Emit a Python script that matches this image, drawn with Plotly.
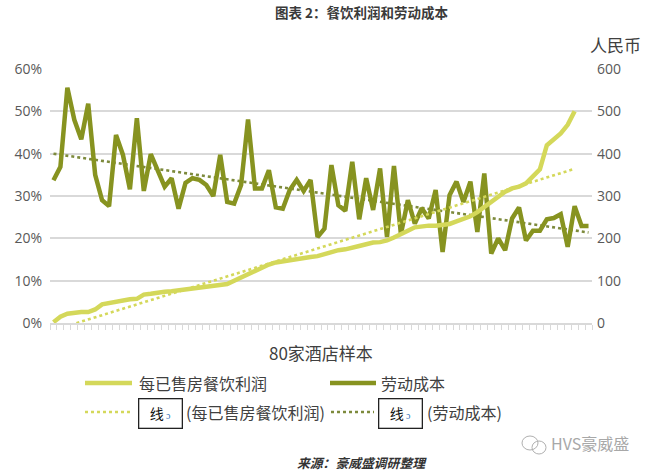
import numpy as np
import plotly.graph_objects as go

# ---------------- data ----------------
labor_cost_pct = [33.7, 36.9, 55.6, 48.0, 43.4, 51.8, 35.0, 29.0, 27.6, 44.4,
                  39.7, 31.6, 48.4, 31.2, 39.9, 36.0, 32.2, 34.2, 27.0, 33.1,
                  34.2, 33.8, 32.6, 30.0, 39.7, 28.6, 28.2, 32.6, 48.1, 31.8,
                  31.8, 36.1, 27.3, 27.0, 31.4, 33.8, 31.2, 33.8, 20.3, 22.3,
                  37.3, 27.8, 26.5, 38.1, 24.5, 34.2, 26.7, 36.5, 20.3, 37.1,
                  21.0, 29.0, 23.5, 27.1, 24.7, 31.4, 16.8, 30.2, 33.4, 28.6,
                  33.4, 21.5, 35.3, 16.4, 20.0, 17.2, 24.7, 27.3, 19.5, 21.8,
                  21.8, 24.5, 24.8, 25.7, 18.0, 27.6, 22.9, 22.9]
fb_profit_rmb = [2, 15, 22, 25, 26, 26, 32, 44, 47, 52,
                 55, 56, 57, 67, 69, 72, 74, 75, 77, 80,
                 82, 84, 85, 87, 88, 92, 100, 108, 115, 122,
                 130, 138, 143, 146, 148, 150, 153, 156, 158, 163,
                 168, 172, 174, 177, 182, 186, 190, 191, 195, 202,
                 209, 218, 226, 229, 230, 230, 231, 234, 240, 246,
                 252, 262, 274, 286, 300, 310, 318, 322, 330, 348,
                 363, 420, 435, 448, 468, 500]
left_ticks = [0, 10, 20, 30, 40, 50, 60]
left_tick_labels = ["0%", "10%", "20%", "30%", "40%", "50%", "60%"]
right_ticks = [0, 100, 200, 300, 400, 500, 600]
right_tick_labels = ["0", "100", "200", "300", "400", "500", "600"]

title_text = "图表 2：餐饮利润和劳动成本"
profit_name = "每已售房餐饮利润"
labor_name = "劳动成本"
xaxis_title = "80家酒店样本"
right_unit = "人民币"
source_text = "来源：豪威盛调研整理"
watermark = "HVS豪威盛"

# ---------------- styles ----------------
C_LIGHT = "#d4d85a"
C_OLIVE = "#879320"
C_OLIVE_DOT = "#7d8a3c"
C_GRID = "#d9d9d9"
C_TEXT = "#404040"
FONT = "Noto Sans CJK SC"

n_lab = len(labor_cost_pct)
n_pro = len(fb_profit_rmb)
x_lab = np.arange(n_lab)
x_pro = np.arange(n_pro)

lab_fit = np.polyfit(x_lab, labor_cost_pct, 1)
pro_fit = np.polyfit(x_pro, fb_profit_rmb, 1)
lab_trend = np.polyval(lab_fit, x_lab)
pro_trend = np.polyval(pro_fit, x_pro)

fig = go.Figure()
fig.add_trace(go.Scatter(x=x_pro, y=pro_trend, yaxis="y2", mode="lines",
                         line=dict(color=C_LIGHT, width=2.6, dash="dot"),
                         name="线 (" + profit_name + ")", showlegend=False))
fig.add_trace(go.Scatter(x=x_lab, y=lab_trend, yaxis="y", mode="lines",
                         line=dict(color=C_OLIVE_DOT, width=2.6, dash="dot"),
                         name="线 (" + labor_name + ")", showlegend=False))
fig.add_trace(go.Scatter(x=x_pro, y=fb_profit_rmb, yaxis="y2", mode="lines",
                         line=dict(color=C_LIGHT, width=4.5),
                         name=profit_name, showlegend=False))
fig.add_trace(go.Scatter(x=x_lab, y=labor_cost_pct, yaxis="y", mode="lines",
                         line=dict(color=C_OLIVE, width=4.5),
                         name=labor_name, showlegend=False))

# plot area in pixels: x 50..592, y 69..323
PL, PR, PT, PB = 50, 592, 69, 323
def px(x):
    return (x - PL) / (PR - PL)
def py(y):
    return (PB - y) / (PB - PT)

annotations = []
shapes = []

def text_at(x, y, text, size, color=C_TEXT, xanchor="center", **kw):
    annotations.append(dict(x=px(x), y=py(y), xref="paper", yref="paper", showarrow=False,
                            xanchor=xanchor, yanchor="middle", text=text,
                            font=dict(family=FONT, size=size, color=color), **kw))

def hline(x0, x1, y, color, width, dash="solid"):
    shapes.append(dict(type="line", xref="paper", yref="paper", x0=px(x0), x1=px(x1),
                       y0=py(y), y1=py(y), line=dict(color=color, width=width, dash=dash)))

text_at(362, 12, "<b>" + title_text + "</b>", 13.5, "#3a3a3a")
text_at(615, 45, right_unit, 17)
text_at(321, 352, xaxis_title, 17)

# legend row 1
hline(85, 132, 383, C_LIGHT, 4.5)
text_at(137, 383, profit_name, 16, xanchor="left")
hline(330, 376, 383, C_OLIVE, 4.5)
text_at(379, 383, labor_name, 16, xanchor="left")

# legend row 2
mark = "<span style='color:#2e6fb7;font-size:10px'> ɔ</span>"
hline(85, 132, 412, C_LIGHT, 2.6, "dot")
text_at(160, 413, "线" + mark, 14, "#111", width=38, height=24, bordercolor="#222",
        borderwidth=1.3, borderpad=2, bgcolor="white")
text_at(184, 412, "(" + profit_name + ")", 16, xanchor="left")
hline(331, 374, 412, C_OLIVE_DOT, 2.6, "dot")
text_at(400, 413, "线" + mark, 14, "#111", width=38, height=24, bordercolor="#222",
        borderwidth=1.3, borderpad=2, bgcolor="white")
text_at(425, 412, "(" + labor_name + ")", 16, xanchor="left")

# watermark
shapes.append(dict(type="circle", xref="paper", yref="paper", x0=px(522), x1=px(538), y0=py(450), y1=py(436),
                   line=dict(color="#b0b0b0", width=1)))
shapes.append(dict(type="circle", xref="paper", yref="paper", x0=px(532), x1=px(546), y0=py(454), y1=py(441),
                   line=dict(color="#b0b0b0", width=1)))
text_at(549, 443, watermark, 16, "#a8a8a8", xanchor="left")
# source
text_at(362, 462, "<b><i>" + source_text + "</i></b>", 12.8, "#333")

fig.update_layout(
    width=650, height=472,
    margin=dict(l=PL, r=650 - PR, t=PT, b=472 - PB, pad=0),
    paper_bgcolor="white", plot_bgcolor="white",
    showlegend=False,
    xaxis=dict(range=[-0.5, n_lab - 0.5], tick0=-0.5, dtick=1, ticks="outside", ticklen=5,
               tickcolor=C_GRID, tickwidth=1, showticklabels=False, showgrid=False,
               showline=True, linecolor=C_GRID, linewidth=1.5, zeroline=False),
    yaxis=dict(range=[0, 60], tickmode="array", tickvals=left_ticks, ticktext=left_tick_labels,
               showgrid=True, gridcolor=C_GRID, gridwidth=1.5, zeroline=False,
               tickfont=dict(family="Open Sans", size=14, color="#595959"), ticklabelstandoff=7),
    yaxis2=dict(range=[0, 600], tickmode="array", tickvals=right_ticks, ticktext=right_tick_labels,
                overlaying="y", side="right", showgrid=False, zeroline=False,
                tickfont=dict(family="Open Sans", size=14, color="#595959"), ticklabelstandoff=4),
    annotations=annotations,
    shapes=shapes,
)

fig.write_html("out.html", config={"displayModeBar": False},
               post_script="document.body.style.margin='0';document.body.style.overflow='hidden';")
